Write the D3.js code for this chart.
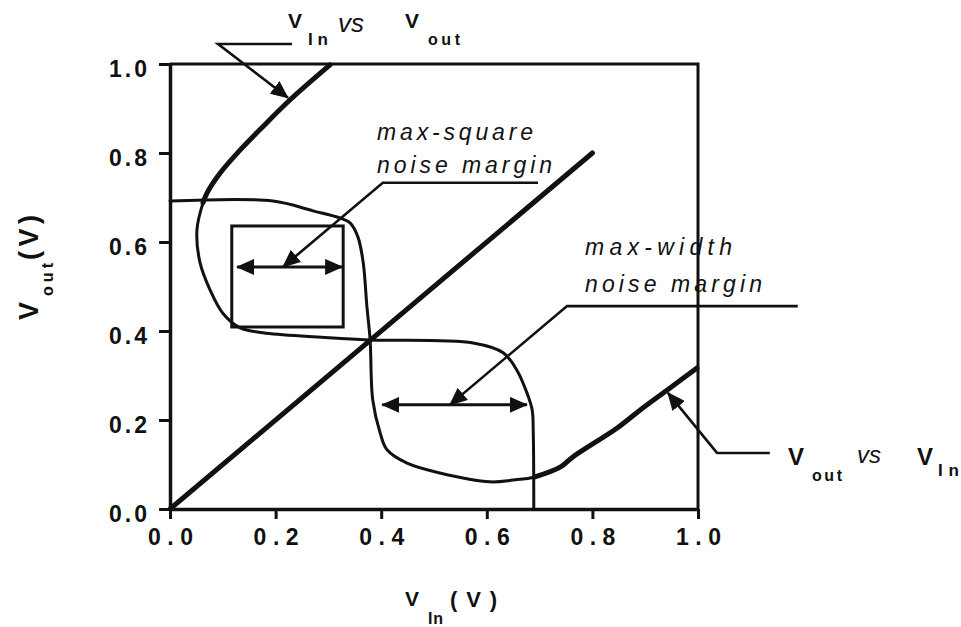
<!DOCTYPE html>
<html>
<head>
<meta charset="utf-8">
<script src="https://cdn.jsdelivr.net/npm/d3@7"></script>
<style>
  body { margin: 0; background: #fff; }
  svg { display: block; }
  text { font-family: "Liberation Sans", Arial, Helvetica, sans-serif; fill: #111; }
</style>
</head>
<body>
<svg id="chart" width="961" height="627"></svg>
<script>
// ---- axis ticks ----
const majorTicks = [0, 0.2, 0.4, 0.6, 0.8, 1.0];
const minorTicks = [0.1, 0.3, 0.5, 0.7, 0.9];
const tickLabels = ["0.0", "0.2", "0.4", "0.6", "0.8", "1.0"];

// ---- inverter transfer curve: V_out vs V_in ----
const vtcIn  = [0.000, 0.195, 0.271, 0.322, 0.341, 0.356, 0.366, 0.373, 0.379, 0.384, 0.398, 0.411, 0.449, 0.511, 0.606, 0.650, 0.691, 0.739, 0.763, 0.847, 0.890, 0.947, 0.998];
const vtcOut = [0.692, 0.692, 0.670, 0.654, 0.643, 0.611, 0.553, 0.454, 0.380, 0.245, 0.171, 0.133, 0.103, 0.081, 0.061, 0.065, 0.072, 0.094, 0.117, 0.182, 0.222, 0.272, 0.317];

// ---- mirrored curve: V_in vs V_out ----
const mirIn  = [0.303, 0.227, 0.170, 0.133, 0.095, 0.070, 0.0625, 0.051, 0.057, 0.076, 0.100, 0.133, 0.176, 0.271, 0.379, 0.574, 0.631, 0.657, 0.676, 0.686, 0.688, 0.689];
const mirOut = [0.998, 0.919, 0.852, 0.807, 0.755, 0.710, 0.688, 0.627, 0.553, 0.492, 0.440, 0.407, 0.396, 0.387, 0.380, 0.373, 0.351, 0.312, 0.261, 0.222, 0.171, 0.000];

// ---- unity-gain line V_out = V_in ----
const unityIn  = [0, 0.8];
const unityOut = [0, 0.8];

// ---- noise-margin constructions ----
const squareX = [0.117, 0.328];          // max-square box, left/right
const squareY = [0.409, 0.636];          // max-square box, bottom/top
const squareArrowX = [0.127, 0.326];     // span arrow inside the box
const squareArrowY = 0.544;
const widthArrowX = [0.402, 0.676];      // max-width span arrow
const widthArrowY = 0.234;

// ---- callout leaders (polyline ends at the arrow tip) ----
const leaderTopIn     = [0.231, 0.091, 0.2235];
const leaderTopOut    = [1.045, 1.045, 0.924];
const leaderSquareIn  = [0.697, 0.403, 0.214];
const leaderSquareOut = [0.733, 0.733, 0.544];
const leaderWidthIn   = [1.189, 0.752, 0.530];
const leaderWidthOut  = [0.456, 0.456, 0.234];
const leaderBotIn     = [1.136, 1.036, 0.943];
const leaderBotOut    = [0.126, 0.126, 0.261];

// ---- layout ----
const svg = d3.select("#chart");
const plotLeft = 170, plotRight = 698, plotTop = 64, plotBottom = 509;
const x = d3.scaleLinear().domain([0, 1]).range([plotLeft, plotRight]);
const y = d3.scaleLinear().domain([0, 1]).range([plotBottom, plotTop]);
const ink = "#111";

const defs = svg.append("defs");
defs.append("marker")
  .attr("id", "head")
  .attr("viewBox", "0 0 18 16")
  .attr("refX", 17).attr("refY", 8)
  .attr("markerWidth", 18).attr("markerHeight", 16)
  .attr("markerUnits", "userSpaceOnUse")
  .attr("orient", "auto-start-reverse")
  .append("path").attr("d", "M0,0 L18,8 L0,16 Z").attr("fill", ink);

const zip = (a, b) => a.map((v, i) => [v, b[i]]);

// ---- axes ----
const gx = svg.append("g").attr("transform", `translate(0,${plotBottom})`);
gx.call(d3.axisBottom(x).tickValues(minorTicks).tickSize(7).tickFormat(""));
gx.call(d3.axisBottom(x).tickValues(majorTicks).tickSize(10).tickSizeOuter(0).tickFormat((d, i) => tickLabels[i]));
gx.selectAll("line").attr("stroke", ink).attr("stroke-width", 3);
gx.select(".domain").attr("stroke", ink).attr("stroke-width", 3.5);
gx.selectAll("text")
  .attr("font-size", 23).attr("font-weight", "bold").attr("fill", ink)
  .attr("y", 36).attr("dy", 0)
  .attr("textLength", 45).attr("lengthAdjust", "spacing");

const gy = svg.append("g").attr("transform", `translate(${plotLeft},0)`);
gy.call(d3.axisLeft(y).tickValues(minorTicks).tickSize(6).tickFormat(""));
gy.call(d3.axisLeft(y).tickValues(majorTicks).tickSize(11).tickSizeOuter(0).tickFormat((d, i) => tickLabels[i]));
gy.selectAll("line").attr("stroke", ink).attr("stroke-width", 3);
gy.select(".domain").attr("stroke", ink).attr("stroke-width", 3.5);
gy.selectAll("text")
  .attr("font-size", 23).attr("font-weight", "bold").attr("fill", ink)
  .attr("x", -23).attr("dy", 12)
  .attr("textLength", 38).attr("lengthAdjust", "spacing");
svg.selectAll(".domain").attr("fill", "none");

// frame: top and right edges
svg.append("path")
  .attr("d", `M${x(0)},${y(1)}H${x(1)}V${y(0)}`)
  .attr("fill", "none").attr("stroke", ink).attr("stroke-width", 3);

// ---- curves ----
const line = d3.line().x(d => x(d[0])).y(d => y(d[1])).curve(d3.curveCatmullRom.alpha(0.5));
const straight = d3.line().x(d => x(d[0])).y(d => y(d[1]));

const vtc = zip(vtcIn, vtcOut);
const mir = zip(mirIn, mirOut);

function stroke(path, w) {
  return path.attr("fill", "none").attr("stroke", ink).attr("stroke-width", w)
    .attr("stroke-linejoin", "round").attr("stroke-linecap", "round");
}

stroke(svg.append("path").attr("d", line(vtc)), 3);
stroke(svg.append("path").attr("d", line(mir)), 3);
// heavier outer branches
stroke(svg.append("path").attr("d", line(vtc.filter(d => d[0] >= 0.69))), 5);
stroke(svg.append("path").attr("d", line(mir.filter(d => d[1] >= 0.688))), 5);
// unity line
stroke(svg.append("path").attr("d", straight(zip(unityIn, unityOut))), 5);

// ---- max-square box ----
svg.append("rect")
  .attr("x", x(squareX[0])).attr("y", y(squareY[1]))
  .attr("width", x(squareX[1]) - x(squareX[0]))
  .attr("height", y(squareY[0]) - y(squareY[1]))
  .attr("fill", "none").attr("stroke", ink).attr("stroke-width", 3);

// ---- double-headed span arrows ----
function spanArrow(xs, yv) {
  svg.append("line")
    .attr("x1", x(xs[0])).attr("x2", x(xs[1]))
    .attr("y1", y(yv)).attr("y2", y(yv))
    .attr("stroke", ink).attr("stroke-width", 3)
    .attr("marker-start", "url(#head)").attr("marker-end", "url(#head)");
}
spanArrow(squareArrowX, squareArrowY);
spanArrow(widthArrowX, widthArrowY);

// ---- callout leaders ----
function leader(xs, ys) {
  svg.append("path")
    .attr("d", straight(zip(xs, ys)))
    .attr("fill", "none").attr("stroke", ink).attr("stroke-width", 2.6)
    .attr("stroke-linejoin", "miter")
    .attr("marker-end", "url(#head)");
}
leader(leaderTopIn, leaderTopOut);
leader(leaderSquareIn, leaderSquareOut);
leader(leaderWidthIn, leaderWidthOut);
leader(leaderBotIn, leaderBotOut);

// ---- text helpers ----
function label(parent, tx, ty, str, size, opts = {}) {
  const t = parent.append("text")
    .attr("x", tx).attr("y", ty)
    .attr("font-size", size)
    .attr("font-weight", opts.weight || "bold")
    .attr("font-style", opts.italic ? "italic" : "normal")
    .attr("fill", ink)
    .text(str);
  if (opts.len) t.attr("textLength", opts.len).attr("lengthAdjust", "spacing");
  return t;
}

// curve callouts
label(svg, 288, 28, "V", 21);
label(svg, 308, 45, "In", 17, { len: 20 });
label(svg, 338, 32, "vs", 26, { italic: true, weight: "normal" });
label(svg, 405, 28, "V", 21);
label(svg, 428, 45, "out", 16, { len: 32 });

label(svg, 788, 465, "V", 24);
label(svg, 812, 481, "out", 16, { len: 30 });
label(svg, 857, 463, "vs", 24, { italic: true, weight: "normal" });
label(svg, 917, 465, "V", 24);
label(svg, 938, 476, "In", 17, { len: 21 });

// noise margin captions
label(svg, 377, 140, "max-square", 23, { italic: true, weight: "normal", len: 156 });
label(svg, 377, 173, "noise margin", 23, { italic: true, weight: "normal", len: 175 });
label(svg, 585, 255, "max-width", 23, { italic: true, weight: "normal", len: 147 });
label(svg, 585, 292, "noise margin", 23, { italic: true, weight: "normal", len: 177 });

// axis titles
label(svg, 405, 606, "V", 21);
label(svg, 428, 624, "In", 16, { len: 15 });
label(svg, 450, 607, "(V)", 22, { len: 47 });

const yTitle = svg.append("g").attr("transform", "translate(38,0) rotate(-90)");
label(yTitle, -320, 0, "V", 27);
label(yTitle, -296, 15, "out", 16, { len: 33 });
label(yTitle, -260, 0, "(V)", 27, { len: 45 });
</script>
</body>
</html>
